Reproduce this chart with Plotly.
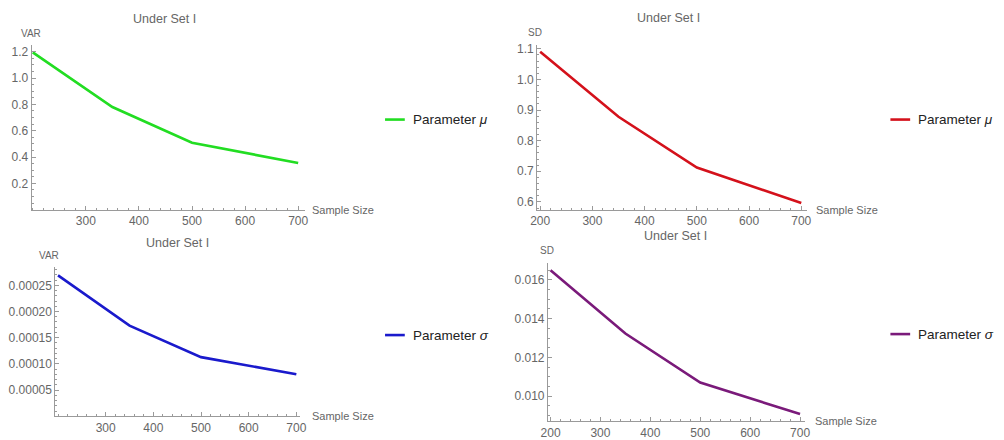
import plotly.graph_objects as go

W, H = 1004, 440

sample_size = [200, 350, 500, 700]
var_mu = [1.195, 0.78, 0.508, 0.355]
sd_mu = [1.09, 0.878, 0.712, 0.596]
var_sigma = [0.000269, 0.000173, 0.000113, 0.0000805]
sd_sigma = [0.0165, 0.01323, 0.01071, 0.00908]

title_text = "Under Set I"
x_label = "Sample Size"

def px_x(v):
    return v / W

def px_y(v):
    return 1 - v / H

fig = go.Figure()

panels = [
    dict(y=var_mu, color="#22dd22", name="Parameter <i>μ</i>", ylab="VAR",
         xdom=(25, 302), ydom=(43, 211), xr=[198, 713], yr=[0, 1.25],
         xticks=[300, 400, 500, 600, 700], yticks=[0.2, 0.4, 0.6, 0.8, 1.0, 1.2], yfmt=".1f",
         yminor=0.05, title_xy=(160, 16), ylab_xy=(24, 31), xlab_xy=(307, 211),
         leg_xy=(383, 119)),
    dict(y=sd_mu, color="#d4111b", name="Parameter <i>μ</i>", ylab="SD",
         xdom=(537, 810), ydom=(43, 211), xr=[194, 710], yr=[0.5745, 1.112],
         xticks=[200, 300, 400, 500, 600, 700], yticks=[0.6, 0.7, 0.8, 0.9, 1.0, 1.1], yfmt=".1f",
         yminor=0.02, title_xy=(670, 15), ylab_xy=(535, 30), xlab_xy=(818, 211),
         leg_xy=(895, 119)),
    dict(y=var_sigma, color="#1a1acc", name="Parameter <i>σ</i>", ylab="VAR",
         xdom=(49, 297), ydom=(270, 422), xr=[194.4, 708], yr=[0, 0.000284],
         xticks=[300, 400, 500, 600, 700],
         yticks=[0.00005, 0.0001, 0.00015, 0.0002, 0.00025], yfmt=".5f",
         yminor=0.00001, title_xy=(173, 245), ylab_xy=(43, 258), xlab_xy=(307, 422),
         leg_xy=(383, 339)),
    dict(y=sd_sigma, color="#7a1a7a", name="Parameter <i>σ</i>", ylab="SD",
         xdom=(548, 808), ydom=(265, 427), xr=[194.7, 709], yr=[0.00871, 0.01689],
         xticks=[200, 300, 400, 500, 600, 700],
         yticks=[0.010, 0.012, 0.014, 0.016], yfmt=".3f",
         yminor=0.0005, title_xy=(677, 238), ylab_xy=(547, 253), xlab_xy=(817, 427),
         leg_xy=(895, 338)),
]

axis_col = "#9a9a9a"
font_fam = "Liberation Sans, Arial, sans-serif"
tick_font = dict(family=font_fam, size=12, color="#666666")
annotations = []
shapes = []
layout_upd = {}

for i, p in enumerate(panels, start=1):
    sfx = "" if i == 1 else str(i)
    fig.add_trace(go.Scatter(
        x=sample_size, y=p["y"], mode="lines", name=p["name"],
        line=dict(color=p["color"], width=2.6),
        xaxis=f"x{sfx}", yaxis=f"y{sfx}", showlegend=False,
    ))
    layout_upd[f"xaxis{sfx}"] = dict(
        domain=[px_x(p["xdom"][0]), px_x(p["xdom"][1])],
        range=p["xr"], anchor=f"y{sfx}",
        showline=True, linecolor=axis_col, linewidth=1,
        showgrid=False, zeroline=False,
        ticks="inside", ticklen=4, tickcolor=axis_col, tickwidth=1,
        tickvals=p["xticks"], tickfont=tick_font,
        minor=dict(ticks="inside", ticklen=2, tickcolor=axis_col, dtick=20, tick0=200, showgrid=False),
    )
    layout_upd[f"yaxis{sfx}"] = dict(
        domain=[px_y(p["ydom"][1]), px_y(p["ydom"][0])],
        range=p["yr"], anchor=f"x{sfx}",
        showline=True, linecolor=axis_col, linewidth=1,
        showgrid=False, zeroline=False,
        ticks="inside", ticklen=4, tickcolor=axis_col, tickwidth=1,
        tickvals=p["yticks"], tickformat=p["yfmt"], tickfont=tick_font,
        minor=dict(ticks="inside", ticklen=2, tickcolor=axis_col, dtick=p["yminor"], tick0=0, showgrid=False),
    )
    # legend: line sample + label
    lx, ly = p["leg_xy"]
    shapes.append(dict(
        type="line", xref="paper", yref="paper",
        x0=px_x(lx), x1=px_x(lx + 20), y0=px_y(ly), y1=px_y(ly),
        line=dict(color=p["color"], width=2.6),
    ))
    annotations.append(dict(
        text=p["name"], x=px_x(lx + 26), y=px_y(ly),
        xref="paper", yref="paper", xanchor="left", yanchor="middle", showarrow=False,
        font=dict(family=font_fam, size=13.5, color="#222222"),
    ))
    annotations.append(dict(
        text=title_text, x=px_x(p["title_xy"][0]), y=px_y(p["title_xy"][1]),
        xref="paper", yref="paper", xanchor="center", yanchor="middle", showarrow=False,
        font=dict(family=font_fam, size=12.5, color="#666666"),
    ))
    annotations.append(dict(
        text=p["ylab"], x=px_x(p["ylab_xy"][0]), y=px_y(p["ylab_xy"][1]),
        xref="paper", yref="paper", xanchor="center", yanchor="middle", showarrow=False,
        font=dict(family=font_fam, size=10, color="#666666"),
    ))
    annotations.append(dict(
        text=x_label, x=px_x(p["xlab_xy"][0]), y=px_y(p["xlab_xy"][1]),
        xref="paper", yref="paper", xanchor="left", yanchor="middle", showarrow=False,
        font=dict(family=font_fam, size=11, color="#666666"),
    ))

fig.update_layout(
    width=W, height=H, margin=dict(l=0, r=0, t=0, b=0),
    paper_bgcolor="white", plot_bgcolor="white",
    annotations=annotations, shapes=shapes, **layout_upd,
)

fig.write_html("out.html", config={"displayModeBar": False},
               post_script="document.body.style.margin='0';")
